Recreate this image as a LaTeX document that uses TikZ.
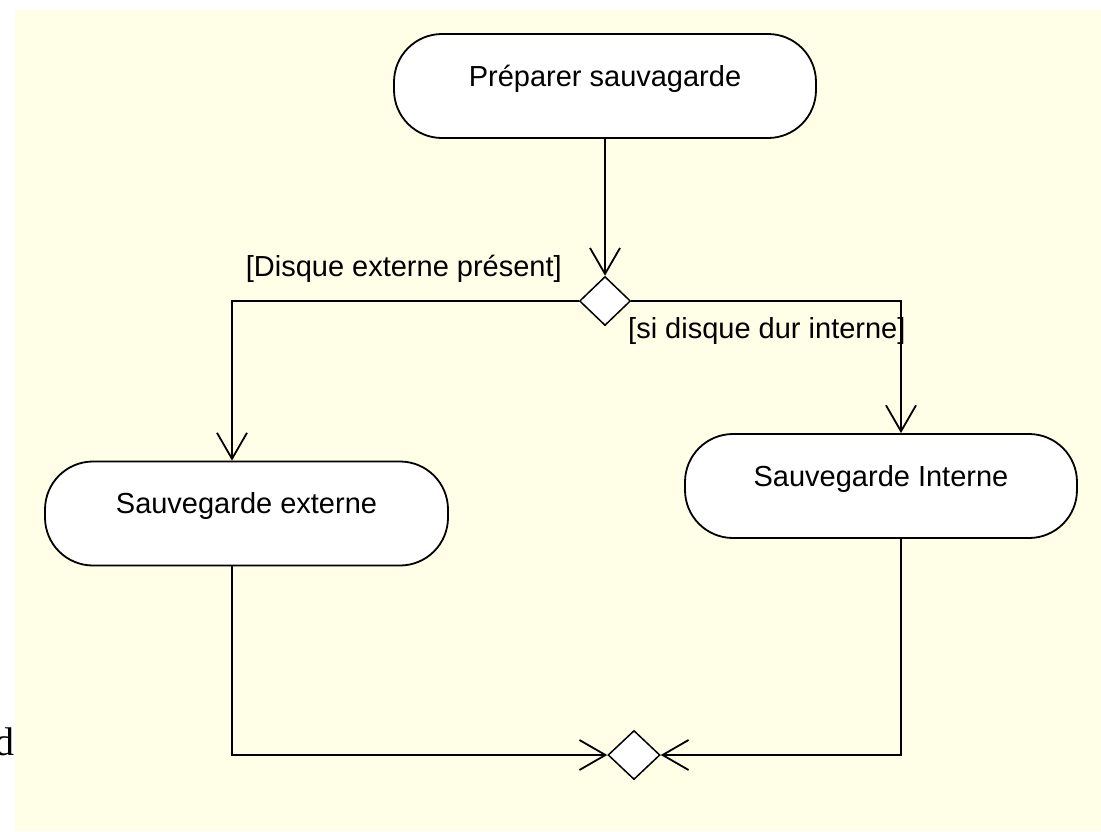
\documentclass[tikz,border=0pt]{standalone}
\usepackage{fontspec}
\setmainfont{Liberation Sans}
\newfontfamily\marginfont{Liberation Serif}
\usetikzlibrary{shapes.geometric,arrows.meta}
\definecolor{notebg}{RGB}{255,254,230}

\begin{document}
\begin{tikzpicture}[x=1pt,y=-1pt,
		activity/.style={draw,line width=1.8pt,fill=white,rounded corners=48pt,minimum height=104pt,text height=20pt,text depth=20pt,inner sep=0pt},
		decision/.style={draw,diamond,line width=1.5pt,fill=white,minimum width=51pt,minimum height=49pt,inner sep=0pt},
		flow/.style={line width=1.8pt,-{Straight Barb[length=26pt,width=30pt]}},
		guard/.style={inner sep=0pt}]
		\tikzstyle{every node}=[font=\fontsize{29}{32}\selectfont]
		\useasboundingbox (0,0) rectangle (1101,831);
		\fill[white] (0,0) rectangle (1101,831);
		\fill[notebg] (15,10) rectangle (1101,831);
		\node[anchor=base east,inner sep=0pt,font=\marginfont\fontsize{40}{44}\selectfont] (margin) at (15,755) {d};
		% activities
		\node[activity,minimum width=422pt] (prep) at (605,86) {Préparer sauvagarde};
		\node[activity,minimum width=403pt] (ext) at (246.5,513.5) {Sauvegarde externe};
		\node[activity,minimum width=392pt] (int) at (881,486) {Sauvegarde Interne};
		\node[decision] (split) at (605,301) {};
		\node[decision,minimum width=52pt] (merge) at (634,755) {};
		% guards
		\node[guard,anchor=base east] (extguard) at (562,276) {[Disque externe présent]};
		\node[guard,anchor=base west] (intguard) at (628,338) {[si disque dur interne]};
		% flows
		\draw[flow] (prep) -- (split);
		\draw[flow] (split.west) -| ([xshift=-14.5pt]ext.north);
		\draw[flow] (split.east) -| ([xshift=20pt]int.north);
		\draw[flow] ([xshift=-14.5pt]ext.south) |- (merge.west);
		\draw[flow] ([xshift=20pt]int.south) |- (merge.east);
	\end{tikzpicture}
\end{document}
